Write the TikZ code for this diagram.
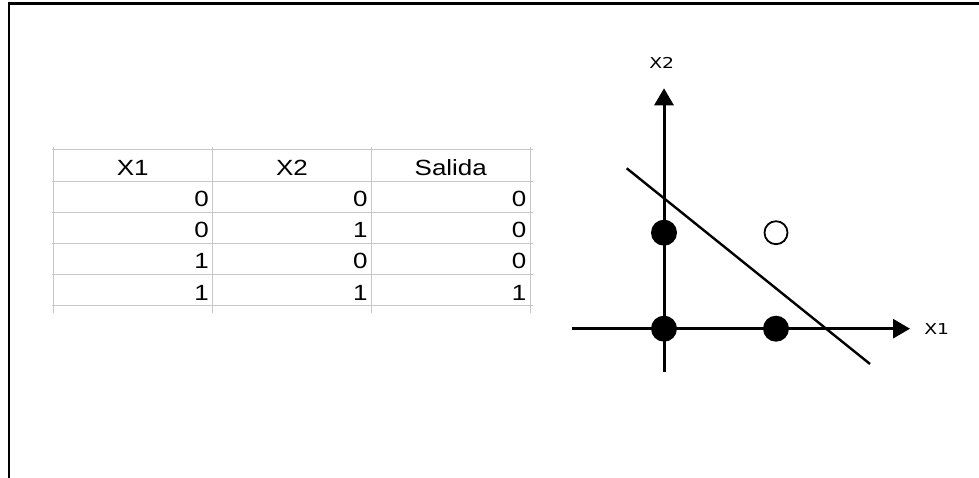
\documentclass[tikz,border=0pt]{standalone}
\usepackage{fontspec}
\setmainfont{Liberation Sans}
\newfontfamily\tablefont[FakeStretch=1.18]{Liberation Sans}
\newfontfamily\plotfont[FakeStretch=1.25]{DejaVu Sans}
\usetikzlibrary{arrows.meta}
\begin{document}
\begin{tikzpicture}[x=1pt, y=-1pt, thick, >=Triangle]
  \tikzstyle{gridline} = [draw=black!22, line width=1pt]
  \tikzstyle{head} = [font=\tablefont\fontsize{22}{26}\selectfont, anchor=base, inner sep=0pt]
  \tikzstyle{cell} = [font=\tablefont\fontsize{22}{26}\selectfont, anchor=base east, inner sep=0pt]
  \tikzstyle{axisline} = [draw, line width=3pt, -{Triangle[length=17pt, width=19pt]}]
  \tikzstyle{dot} = [circle, fill, minimum size=26pt, inner sep=0pt]
  \tikzstyle{hole} = [circle, draw, line width=1.8pt, minimum size=23pt, inner sep=0pt]
  \tikzstyle{axlabel} = [font=\plotfont\fontsize{15}{18}\selectfont, inner sep=0pt]

  \useasboundingbox (0,0) rectangle (979,478);
  \draw[line width=2.6pt] (9,478) -- (9,3.5) -- (979,3.5);

  % truth table
  \foreach \i in {0,...,5}
    \draw[gridline] (51.5,{150+31.1*\i}) -- (533,{150+31.1*\i});
  \foreach \x in {53.3,212.3,371.7,530}
    \draw[gridline] (\x,147) -- (\x,313);

  \node[head] (h1) at (132.8,175.5) {X1};
  \node[head] (h2) at (292,175.5) {X2};
  \node[head] (h3) at (450.8,175.5) {Salida};
  \foreach \a/\b/\s [count=\r] in {0/0/0, 0/1/0, 1/0/0, 1/1/1} {
    \node[cell] (c\r a) at (209.3,{175.6+31.1*\r}) {\a};
    \node[cell] (c\r b) at (368,{175.6+31.1*\r}) {\b};
    \node[cell] (c\r s) at (526.6,{175.6+31.1*\r}) {\s};
  }

  % plane
  \coordinate (xs) at (571.7,328.7);
  \coordinate (xe) at (910,328.7);
  \coordinate (ys) at (664,371.7);
  \coordinate (ye) at (664,88.3);
  \coordinate (la) at (626.7,168.3);
  \coordinate (lb) at (870,364);

  \path[axisline] (xs) -- (xe);
  \path[axisline] (ys) -- (ye);
  \draw[line width=2.4pt] (la) -- (lb);

  \node[dot] (p00) at (664,328.7) {};
  \node[dot] (p01) at (664,232.7) {};
  \node[dot] (p10) at (776,328.7) {};
  \node[hole] (p11) at (776,232.7) {};

  \node[axlabel] (lx2) at (661.7,63.3) {X2};
  \node[axlabel] (lx1) at (936.7,328.7) {X1};
\end{tikzpicture}
\end{document}
